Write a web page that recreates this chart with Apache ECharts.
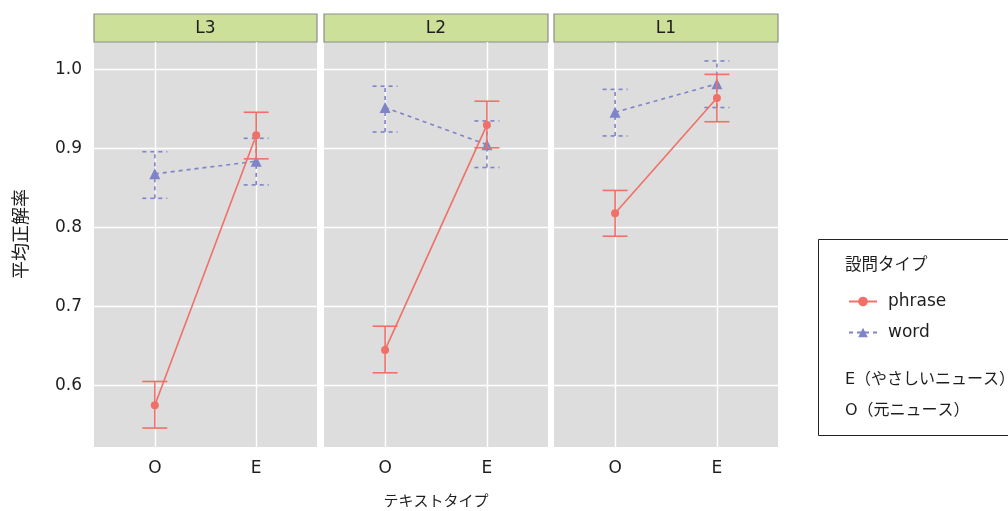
<!DOCTYPE html>
<html>
<head>
<meta charset="utf-8">
<script src="https://cdn.jsdelivr.net/npm/echarts@6/dist/echarts.min.js"></script>
<style>
  html, body { margin: 0; padding: 0; background: #fff; }
  #chart { width: 1008px; height: 511px; }
</style>
</head>
<body>
<div id="chart"></div>
<script>
// facet order, left to right
const levels = ['L3', 'L2', 'L1']
const textTypes = ['O', 'E']
const yTicks = [0.6, 0.7, 0.8, 0.9, 1.0]

// means and error bar ends per level, [O, E]
const phraseMean = [[0.575, 0.917], [0.645, 0.930], [0.818, 0.964]]
const phraseLow = [[0.546, 0.887], [0.616, 0.901], [0.789, 0.934]]
const phraseHigh = [[0.605, 0.946], [0.675, 0.960], [0.847, 0.994]]
const wordMean = [[0.868, 0.884], [0.952, 0.905], [0.946, 0.982]]
const wordLow = [[0.837, 0.854], [0.921, 0.876], [0.916, 0.952]]
const wordHigh = [[0.896, 0.913], [0.979, 0.935], [0.975, 1.011]]

const RED = '#F07068'
const BLUE = '#7F83C7'
const INK = '#1e1e1e'
const FONT = '"DejaVu Sans", "Noto Sans CJK JP", sans-serif'
const panels = [{ left: 94, width: 223 }, { left: 324, width: 224 }, { left: 554, width: 224 }]
const panelTop = 42
const panelHeight = 405

const chart = echarts.init(document.getElementById('chart'))

function errorBar(color, dashed) {
  return function(params, api) {
    const x = api.value(0)
    const lo = api.coord([x, api.value(1)])
    const hi = api.coord([x, api.value(2)])
    const w = 12.5
    const style = { stroke: color, lineWidth: 1.6, lineDash: dashed ? [4, 4] : null }
    return {
      type: 'group',
      children: [
        { type: 'line', shape: { x1: lo[0], y1: lo[1], x2: hi[0], y2: hi[1] }, style: style },
        { type: 'line', shape: { x1: lo[0] - w, y1: lo[1], x2: lo[0] + w, y2: lo[1] }, style: style },
        { type: 'line', shape: { x1: hi[0] - w, y1: hi[1], x2: hi[0] + w, y2: hi[1] }, style: style }
      ]
    }
  }
}

const grid = []
const xAxis = []
const yAxis = []
const series = []
const graphic = []

levels.forEach((lv, i) => {
  grid.push({
    left: panels[i].left, width: panels[i].width, top: panelTop, height: panelHeight,
    show: true, backgroundColor: '#DCDDDC', borderWidth: 0, outerBoundsMode: 'none'
  })
  xAxis.push({
    type: 'value', gridIndex: i, min: 0.4, max: 2.6,
    name: i === 1 ? 'テキストタイプ' : '', nameLocation: 'middle', nameGap: 48,
    nameTextStyle: { fontSize: 15, color: INK, fontFamily: FONT },
    axisLine: { show: false },
    axisTick: { show: false, customValues: [1, 2] },
    axisLabel: { customValues: [1, 2], formatter: v => textTypes[Math.round(v) - 1], fontSize: 17, color: INK, margin: 13, fontFamily: FONT },
    splitLine: { show: true, lineStyle: { color: '#fff', width: 1.4 } }
  })
  yAxis.push({
    type: 'value', gridIndex: i, min: 0.522, max: 1.035,
    axisLine: { show: false },
    axisTick: { show: false, customValues: yTicks },
    axisLabel: { show: i === 0, customValues: yTicks, formatter: v => v.toFixed(1), fontSize: 17, color: INK, margin: 12, fontFamily: FONT },
    splitLine: { show: true, lineStyle: { color: '#fff', width: 1.4 } }
  })

  series.push({
    type: 'custom', name: 'word-err', xAxisIndex: i, yAxisIndex: i, silent: true,
    renderItem: errorBar(BLUE, true),
    data: textTypes.map((t, j) => [j + 1, wordLow[i][j], wordHigh[i][j]]),
    z: 2
  })
  series.push({
    type: 'line', name: 'word', xAxisIndex: i, yAxisIndex: i,
    data: textTypes.map((t, j) => [j + 1, wordMean[i][j]]),
    symbol: 'triangle', symbolSize: 11, color: BLUE,
    lineStyle: { color: BLUE, width: 1.6, type: [4, 4] },
    itemStyle: { color: BLUE },
    z: 3
  })
  series.push({
    type: 'custom', name: 'phrase-err', xAxisIndex: i, yAxisIndex: i, silent: true,
    renderItem: errorBar(RED, false),
    data: textTypes.map((t, j) => [j + 1, phraseLow[i][j], phraseHigh[i][j]]),
    z: 4
  })
  series.push({
    type: 'line', name: 'phrase', xAxisIndex: i, yAxisIndex: i,
    data: textTypes.map((t, j) => [j + 1, phraseMean[i][j]]),
    symbol: 'circle', symbolSize: 8, color: RED,
    lineStyle: { color: RED, width: 1.6 },
    itemStyle: { color: RED },
    z: 5
  })

  // facet strip
  graphic.push({
    type: 'rect', shape: { x: panels[i].left, y: 14, width: panels[i].width, height: 28 },
    style: { fill: '#CCE09A', stroke: '#8C8C8C', lineWidth: 1.2 }
  })
  graphic.push({
    type: 'text', x: panels[i].left + panels[i].width / 2, y: 29,
    style: { text: lv, fontSize: 17, fill: INK, align: 'center', verticalAlign: 'middle', fontFamily: FONT }
  })
})

// y axis title
graphic.push({
  type: 'text', x: 22, y: 234, rotation: Math.PI / 2,
  style: { text: '平均正解率', fontSize: 18, fill: INK, align: 'center', verticalAlign: 'middle', fontFamily: FONT }
})

// legend box and notes
graphic.push({ type: 'rect', shape: { x: 818.5, y: 239.5, width: 200, height: 196 }, style: { fill: '#fff', stroke: '#222', lineWidth: 1 }, z: -1 })
graphic.push({ type: 'text', x: 845, y: 266, style: { text: '設問タイプ', fontSize: 16.5, fill: INK, verticalAlign: 'middle', fontFamily: FONT } })
graphic.push({ type: 'text', x: 845, y: 380, style: { text: 'E（やさしいニュース）', fontSize: 16, fill: INK, verticalAlign: 'middle', fontFamily: FONT } })
graphic.push({ type: 'text', x: 845, y: 411, style: { text: 'O（元ニュース）', fontSize: 16, fill: INK, verticalAlign: 'middle', fontFamily: FONT } })

chart.setOption({
  animation: false,
  grid: grid,
  xAxis: xAxis,
  yAxis: yAxis,
  legend: {
    data: ['phrase', 'word'], orient: 'vertical', left: 843, top: 287,
    itemWidth: 28, itemHeight: 12, itemGap: 12,
    textStyle: { fontSize: 17, color: INK, fontFamily: FONT, padding: [0, 0, 0, 6], lineHeight: 19 },
    selectedMode: false
  },
  graphic: graphic,
  series: series
})
</script>
</body>
</html>
